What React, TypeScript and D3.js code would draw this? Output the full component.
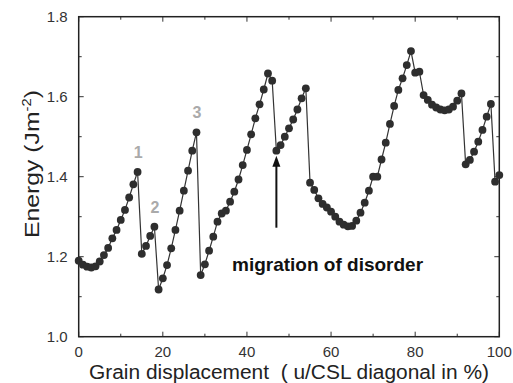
import React from "react";
import * as d3 from "d3";

const energy: number[] = [
  1.19, 1.18, 1.175, 1.173, 1.176, 1.188, 1.204, 1.222, 1.246, 1.267,
  1.292, 1.317, 1.348, 1.381, 1.412, 1.207, 1.227, 1.252, 1.275, 1.118,
  1.146, 1.179, 1.221, 1.267, 1.315, 1.365, 1.415, 1.465, 1.511, 1.154,
  1.181, 1.215, 1.25, 1.2875, 1.308, 1.315, 1.3375, 1.3625, 1.393, 1.429,
  1.467, 1.506, 1.546, 1.581, 1.618, 1.658, 1.64, 1.465, 1.479, 1.5,
  1.521, 1.543, 1.568, 1.596, 1.621, 1.385, 1.367, 1.346, 1.332, 1.323,
  1.3125, 1.3, 1.2875, 1.28, 1.276, 1.277, 1.29, 1.31, 1.335, 1.365,
  1.4, 1.4, 1.443, 1.485, 1.532, 1.577, 1.617, 1.646, 1.679, 1.714,
  1.66, 1.6625, 1.604, 1.592, 1.58, 1.573, 1.568, 1.566, 1.568, 1.575,
  1.59, 1.608, 1.431, 1.442, 1.4625, 1.4875, 1.517, 1.55, 1.582, 1.3875,
  1.404,
];
const displacement: number[] = energy.map((_, i) => i);

const xTicks = [0, 20, 40, 60, 80, 100];
const xMinor = [10, 30, 50, 70, 90];
const yTicks = [1.0, 1.2, 1.4, 1.6, 1.8];
const yMinor = [1.1, 1.3, 1.5, 1.7];

const peakLabels = [
  { text: "1", x: 14, e: 1.412 },
  { text: "2", x: 18, e: 1.275 },
  { text: "3", x: 28, e: 1.511 },
];

const annotation = { text: "migration of disorder", x: 47, e: 1.465 };

export default function App() {
  const W = 513, H = 383;
  const left = 78.7, right = 499.3, top = 16.7, bottom = 336.7;
  const x = d3.scaleLinear().domain([0, 100]).range([left, right]);
  const y = d3.scaleLinear().domain([1.0, 1.8]).range([bottom, top]);
  const line = d3.line<number>().x((_, i) => x(displacement[i])).y((d) => y(d));
  const font = "'Liberation Sans', Arial, sans-serif";
  const tickCol = "#333";
  const maj = 5, mnr = 3;

  return (
    <svg width={W} height={H} style={{ position: "absolute", left: 0, top: 0, background: "#fff" }}>
      <rect x={0} y={0} width={W} height={H} fill="#fff" />
      {xTicks.map((t) => (
        <g key={"xt" + t}>
          <line x1={x(t)} x2={x(t)} y1={bottom} y2={bottom - maj} stroke={tickCol} strokeWidth={1} />
          <line x1={x(t)} x2={x(t)} y1={top} y2={top + maj} stroke={tickCol} strokeWidth={1} />
          <text x={x(t)} y={bottom + 20} textAnchor="middle" fontFamily={font} fontSize={15} fill="#333">{t}</text>
        </g>
      ))}
      {xMinor.map((t) => (
        <g key={"xm" + t}>
          <line x1={x(t)} x2={x(t)} y1={bottom} y2={bottom - mnr} stroke={tickCol} strokeWidth={1} />
          <line x1={x(t)} x2={x(t)} y1={top} y2={top + mnr} stroke={tickCol} strokeWidth={1} />
        </g>
      ))}
      {yTicks.map((t) => (
        <g key={"yt" + t}>
          <line x1={left} x2={left + maj} y1={y(t)} y2={y(t)} stroke={tickCol} strokeWidth={1} />
          <line x1={right} x2={right - maj} y1={y(t)} y2={y(t)} stroke={tickCol} strokeWidth={1} />
          <text x={left - 11} y={y(t) + 5} textAnchor="end" fontFamily={font} fontSize={15} fill="#333">{t.toFixed(1)}</text>
        </g>
      ))}
      {yMinor.map((t) => (
        <g key={"ym" + t}>
          <line x1={left} x2={left + mnr} y1={y(t)} y2={y(t)} stroke={tickCol} strokeWidth={1} />
          <line x1={right} x2={right - mnr} y1={y(t)} y2={y(t)} stroke={tickCol} strokeWidth={1} />
        </g>
      ))}
      <rect x={left} y={top} width={right - left} height={bottom - top} fill="none" stroke="#222" strokeWidth={1.5} />
      <path d={line(energy) || ""} fill="none" stroke="#333" strokeWidth={1.2} />
      {energy.map((e, i) => (
        <circle key={i} cx={x(displacement[i])} cy={y(e)} r={3.9} fill="#2e2e2e" />
      ))}
      {peakLabels.map((p) => (
        <text key={p.text} x={x(p.x) + 0.5} y={y(p.e) - 14} textAnchor="middle" fontFamily={font} fontWeight="bold" fontSize={16} fill="#aaa">{p.text}</text>
      ))}
      <line x1={x(annotation.x)} x2={x(annotation.x)} y1={y(annotation.e) + 77} y2={y(annotation.e) + 14} stroke="#111" strokeWidth={2} />
      <path d={`M${x(annotation.x)},${y(annotation.e) + 5} l-4,11 l8,0 z`} fill="#111" />
      <text x={232} y={271} fontFamily={font} fontWeight="bold" fontSize={19} fill="#111">{annotation.text}</text>
      <text x={289} y={379} textAnchor="middle" fontFamily={font} fontSize={20} fill="#222" textLength={400} lengthAdjust="spacingAndGlyphs" style={{ whiteSpace: "pre" }}>{"Grain displacement  ( u/CSL diagonal in %)"}</text>
      <text transform={`translate(39,${164}) rotate(-90)`} textAnchor="middle" fontFamily={font} fontSize={20} fill="#222" textLength={148} lengthAdjust="spacingAndGlyphs">
        Energy (Jm<tspan dy={-8} fontSize={12}>-2</tspan><tspan dy={8}>)</tspan>
      </text>
    </svg>
  );
}
